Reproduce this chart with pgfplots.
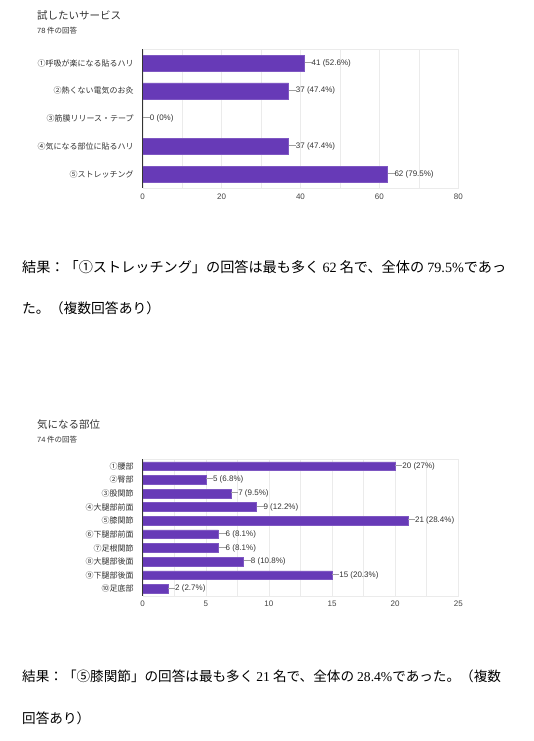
\documentclass[border=0pt]{standalone}
\usepackage{pgfplots}
\pgfplotsset{compat=1.18}
\usepackage{fontspec}
\setmainfont{Noto Sans CJK JP}
\newfontfamily\rmnum{Liberation Serif}
\newfontfamily\sfnum{Liberation Sans}

\definecolor{barfill}{HTML}{673AB7}
\definecolor{barline}{HTML}{7E57C2}
\definecolor{gridgray}{HTML}{EBEBEB}
\definecolor{axisdark}{HTML}{333333}
\definecolor{textgray}{HTML}{444444}
\definecolor{leadgray}{HTML}{9E9E9E}
\newcommand\fs[1]{\fontsize{#1}{#1}\selectfont}
\newcommand\lead{\textcolor{leadgray}{\rule[2.7pt]{7pt}{0.7pt}}}

\pgfplotsset{formbar/.style={
    scale only axis, xbar, y dir=reverse, xmin=0,
    axis line style={draw=gridgray},
    xmajorgrids, xminorgrids,
    grid style={draw=gridgray, line width=0.6pt},
    minor grid style={draw=gridgray, line width=0.6pt},
    tick style={draw=none},
    ticklabel style={font=\fs{8}, text=textgray},
    /pgf/number format/assume math mode=true,
    yticklabel style={inner sep=0pt, xshift=-4.5pt, text=axisdark},
    xticklabel style={yshift=-2pt, font=\sfnum\fs{8}},
    nodes near coords, point meta=explicit symbolic,
    every node near coord/.append style={anchor=west, font=\sfnum\fs{8}, text=axisdark, inner sep=0pt},
    clip=false,
}}

\begin{document}
\begin{tikzpicture}
\path[use as bounding box, fill=white] (0,0) rectangle (533pt,-741pt);

% ---- chart 1
\node[anchor=west, inner sep=0pt, font=\fs{10.5}, text=axisdark] at (37pt,-16pt) {試したいサービス};
\node[anchor=west, inner sep=0pt, font=\fs{7.5}, text=axisdark] at (37pt,-31pt) {{\sfnum 78} 件の回答};
\begin{axis}[formbar,
    at={(142.7pt,-188pt)}, anchor=south west,
    width=315.6pt, height=138.7pt,
    xmax=80, ymin=-0.5, ymax=4.5,
    bar width=16pt,
    xtick={0,20,...,80}, minor xtick={10,30,50,70},
    ytick={0,...,4},
    yticklabels={①呼吸が楽になる貼るハリ, ②熱くない電気のお灸, ③筋膜リリース・テープ, ④気になる部位に貼るハリ, ⑤ストレッチング},
]
\addplot[fill=barfill, draw=barline, line width=0.5pt] coordinates {
    (41,0) [\lead41 (52.6\%)]
    (37,1) [\lead37 (47.4\%)]
    (0,2)  [\lead0 (0\%)]
    (37,3) [\lead37 (47.4\%)]
    (62,4) [\lead62 (79.5\%)]
};
\draw[axisdark, line width=0.9pt] (rel axis cs:0,0) -- (rel axis cs:0,1);
\end{axis}

\node[anchor=west, inner sep=0pt, font=\fs{14.15}] at (22pt,-267pt)
  {結果：「①ストレッチング」の回答は最も多く {\rmnum 62} 名で、全体の {\rmnum 79.5\%}であっ};
\node[anchor=west, inner sep=0pt, font=\fs{13.8}] at (22pt,-308pt)
  {た。（複数回答あり）};

% ---- chart 2
\node[anchor=west, inner sep=0pt, font=\fs{10.5}, text=axisdark] at (37pt,-425pt) {気になる部位};
\node[anchor=west, inner sep=0pt, font=\fs{7.5}, text=axisdark] at (37pt,-440pt) {{\sfnum 74} 件の回答};
\begin{axis}[formbar,
    at={(142.7pt,-595.7pt)}, anchor=south west,
    width=315.6pt, height=136.4pt,
    xmax=25, ymin=-0.5, ymax=9.5,
    bar width=8.7pt,
    xtick={0,5,...,25}, minor xtick={2.5,7.5,...,22.5},
    ytick={0,...,9},
    yticklabels={①腰部, ②臀部, ③股関節, ④大腿部前面, ⑤膝関節, ⑥下腿部前面, ⑦足根関節, ⑧大腿部後面, ⑨下腿部後面, ⑩足底部},
]
\addplot[fill=barfill, draw=barline, line width=0.5pt] coordinates {
    (20,0) [\lead20 (27\%)]
    (5,1)  [\lead5 (6.8\%)]
    (7,2)  [\lead7 (9.5\%)]
    (9,3)  [\lead9 (12.2\%)]
    (21,4) [\lead21 (28.4\%)]
    (6,5)  [\lead6 (8.1\%)]
    (6,6)  [\lead6 (8.1\%)]
    (8,7)  [\lead8 (10.8\%)]
    (15,8) [\lead15 (20.3\%)]
    (2,9)  [\lead2 (2.7\%)]
};
\draw[axisdark, line width=0.9pt] (rel axis cs:0,0) -- (rel axis cs:0,1);
\end{axis}

\node[anchor=west, inner sep=0pt, font=\fs{13.6}] at (22pt,-676pt)
  {結果：「⑤膝関節」の回答は最も多く {\rmnum 21} 名で、全体の {\rmnum 28.4\%}であった。（複数};
\node[anchor=west, inner sep=0pt, font=\fs{13.6}] at (22pt,-718pt)
  {回答あり）};
\end{tikzpicture}
\end{document}
